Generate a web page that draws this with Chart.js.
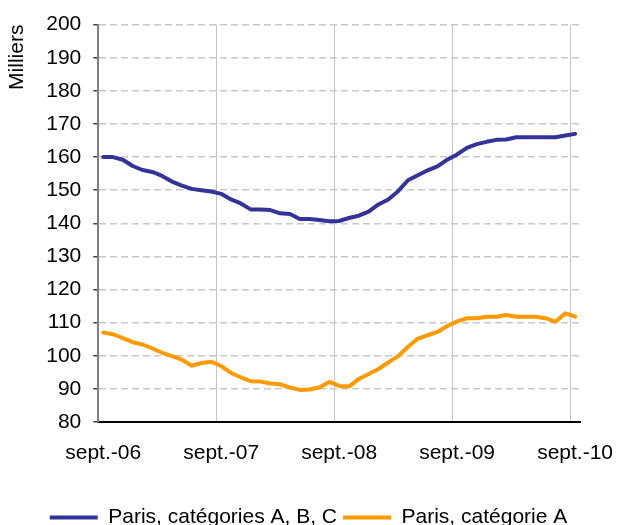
<!DOCTYPE html>
<html lang="fr">
<head>
<meta charset="utf-8">
<title>Demandeurs d'emploi - Paris</title>
<script src="https://cdn.jsdelivr.net/npm/chart.js@4.4.1/dist/chart.umd.min.js"></script>
<style>
  html, body { margin: 0; padding: 0; background: #fff; }
</style>
</head>
<body>
<canvas id="chart" width="617" height="525"></canvas>
<script>
// Mois au format Excel, de sept. 2006 à sept. 2010
const monthNames = ['janv.', 'févr.', 'mars', 'avr.', 'mai', 'juin', 'juil.', 'août', 'sept.', 'oct.', 'nov.', 'déc.'];
const startMonth = 8; // septembre
const startYear = 2006;
const nbMonths = 49;

const labels = [];
for (let i = 0; i < nbMonths; i++) {
  const m = (startMonth + i) % 12;
  const y = startYear + Math.floor((startMonth + i) / 12);
  labels.push(monthNames[m] + '-' + String(y).slice(2));
}

// Demandeurs d'emploi, en milliers
const parisABC = [
  160, 160, 159.2, 157.3, 156.1, 155.5, 154.3, 152.6, 151.4, 150.4, 150, 149.6,
  148.9, 147.2, 146, 144.2, 144.2, 144, 143, 142.8, 141.3, 141.3, 141, 140.6,
  140.7, 141.6, 142.3, 143.5, 145.7, 147.2, 149.7, 153, 154.5, 156, 157.2, 159.2,
  160.8, 162.8, 163.9, 164.6, 165.2, 165.3, 166, 166, 166, 166, 166, 166.5,
  167
];
const parisA = [
  107, 106.5, 105.3, 104.1, 103.4, 102.2, 100.9, 99.9, 98.8, 97, 97.8, 98.2,
  96.9, 94.8, 93.5, 92.3, 92.2, 91.6, 91.4, 90.4, 89.7, 89.8, 90.5, 92.1,
  90.9, 90.7, 93, 94.5, 96, 98, 99.9, 102.7, 105.2, 106.2, 107.2, 109,
  110.4, 111.3, 111.3, 111.8, 111.8, 112.3, 111.8, 111.8, 111.8, 111.3, 110.3, 112.8,
  111.8
];

const seriesNames = ['Paris, catégories A, B, C', 'Paris, catégorie A'];
const yMin = 80;
const yMax = 200;
const yStep = 10;
const labelEvery = 12; // un libellé par an

const font = { family: 'Arial, "Liberation Sans", sans-serif', size: 21 };

// descend la légende vers le bas du canvas
const legendLower = {
  id: 'legendLower',
  beforeInit(chart) {
    const fit = chart.legend.fit;
    chart.legend.fit = function () {
      fit.call(this);
      this.height -= 13;
    };
  }
};

Chart.defaults.color = '#000';

new Chart(document.getElementById('chart'), {
  type: 'line',
  data: {
    labels: labels,
    datasets: [
      {
        label: seriesNames[0],
        data: parisABC,
        borderColor: '#333399',
        backgroundColor: '#333399',
        borderWidth: 4,
        pointRadius: 0,
        borderJoinStyle: 'round',
        borderCapStyle: 'round',
        tension: 0
      },
      {
        label: seriesNames[1],
        data: parisA,
        borderColor: '#FF9900',
        backgroundColor: '#FF9900',
        borderWidth: 4,
        pointRadius: 0,
        borderJoinStyle: 'round',
        borderCapStyle: 'round',
        tension: 0
      }
    ]
  },
  options: {
    responsive: false,
    animation: false,
    devicePixelRatio: 1,
    layout: { padding: { top: 24, left: 0, right: 0, bottom: 0 } },
    plugins: {
      tooltip: { enabled: false },
      legend: {
        position: 'bottom',
        labels: {
          font: font,
          color: '#000',
          usePointStyle: true,
          pointStyle: 'line',
          pointStyleWidth: 48,
          padding: 6
        }
      }
    },
    scales: {
      x: {
        offset: true,
        grid: {
          offset: true,
          drawTicks: true,
          tickLength: 19,
          tickColor: 'rgba(0,0,0,0)',
          lineWidth: 1,
          color: ctx => (ctx.index % labelEvery === 0 ? '#c4c4c4' : 'rgba(0,0,0,0)')
        },
        border: { color: '#000', width: 2 },
        ticks: {
          font: font,
          color: '#000',
          autoSkip: false,
          maxRotation: 0,
          minRotation: 0,
          padding: 0,
          callback: function (value, index) {
            return index % labelEvery === 0 ? this.getLabelForValue(value) : '';
          }
        },
        afterFit(scale) { scale.height = 79; }
      },
      y: {
        min: yMin,
        max: yMax,
        grid: {
          color: '#c8c8c8',
          lineWidth: 1.5,
          tickLength: 5,
          tickColor: '#404040',
          tickWidth: 1.5,
          tickBorderDash: []
        },
        border: { color: '#808080', width: 2, dash: [7, 4] },
        ticks: {
          stepSize: yStep,
          font: font,
          color: '#000',
          padding: 12
        },
        title: {
          display: true,
          text: 'Milliers',
          align: 'end',
          font: font,
          color: '#000',
          padding: { top: 5, bottom: 4 }
        }
      },
      // axe vide pour réserver la marge de droite
      yRight: {
        position: 'right',
        grid: { display: false, drawTicks: false },
        border: { display: false },
        ticks: { display: false },
        afterFit(scale) { scale.width = 37; }
      }
    }
  },
  plugins: [legendLower]
});
</script>
</body>
</html>
